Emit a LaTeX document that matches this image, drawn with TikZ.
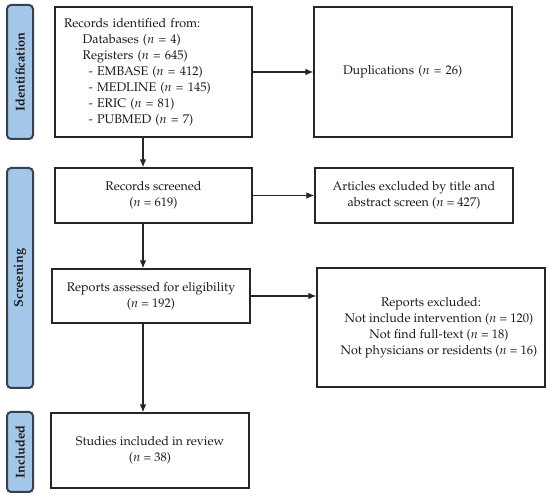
\documentclass[tikz,border=0pt]{standalone}
\usepackage[T1]{fontenc}
\usepackage{mathpazo}
\usetikzlibrary{arrows.meta}
\definecolor{barfill}{HTML}{A4C6E8}
\definecolor{barline}{HTML}{36404E}
\definecolor{txt}{HTML}{1A1A1A}
\begin{document}
\begin{tikzpicture}[x=0.75pt,y=-0.75pt,
  every node/.style={text=txt,font=\fontsize{9.4}{12}\selectfont},
  box/.style={draw=black!85,line width=1.1pt,fill=white,inner sep=0pt,align=center},
  bar/.style={draw=barline,line width=1.5pt,fill=barfill,rounded corners=3pt,inner sep=0pt,
     minimum width=19.5pt},
  bartext/.style={rotate=90,font=\fontsize{9.6}{12}\selectfont\bfseries,text=txt},
  arr/.style={draw=black!85,line width=0.8pt,-{Latex[length=6pt,width=5pt]}}]
\useasboundingbox (0,0) rectangle (550,498);

% side bars
\node[bar,minimum height=100.5pt] (bid) at (20,72) {};
\node[bartext] (tid) at (bid.center) {Identification};
\node[bar,minimum height=165pt] (bsc) at (20,278) {};
\node[bartext] (tsc) at (bsc.center) {Screening};
\node[bar,minimum height=60pt] (bin) at (20,452) {};
\node[bartext] (tin) at (bin.center) {Included};

% boxes
\node[box,minimum width=147.75pt,minimum height=97.5pt,text width=134.25pt,inner xsep=6.75pt,align=left] (ident) at (153.5,72)
 {Records identified from:\\
  \hspace*{14pt}Databases ($n$ = 4)\\
  \hspace*{14pt}Registers ($n$ = 645)\\
  \hspace*{18.5pt}- EMBASE ($n$ = 412)\\
  \hspace*{18.5pt}- MEDLINE ($n$ = 145)\\
  \hspace*{18.5pt}- ERIC ($n$ = 81)\\
  \hspace*{18.5pt}- PUBMED ($n$ = 7)};
\node[box,minimum width=148.5pt,minimum height=97.5pt,text width=105pt,inner xsep=21.75pt,align=left] (dup) at (413,72)
 {Duplications ($n$ = 26)};
\node[box,minimum width=147.75pt,minimum height=41.25pt] (scr) at (153.5,195.5)
 {Records screened\\($n$ = 619)};
\node[box,minimum width=148.5pt,minimum height=41.25pt] (art) at (414,195.5)
 {Articles excluded by title and\\abstract screen ($n$ = 427)};
\node[box,minimum width=148.5pt,minimum height=40.5pt] (ass) at (151,296)
 {Reports assessed for eligibility\\($n$ = 192)};
\node[box,minimum width=171pt,minimum height=89.25pt] (exc) at (431,327.5)
 {Reports excluded:\\
  \hspace*{12pt}Not include intervention ($n$ = 120)\\
  \hspace*{12pt}Not find full-text ($n$ = 18)\\
  \hspace*{12pt}Not physicians or residents ($n$ = 16)};
\node[box,minimum width=148.5pt,minimum height=56.25pt] (stu) at (150,450.5)
 {Studies included in review\\($n$ = 38)};

% connectors
\coordinate (ax) at (143,0);
\draw[arr] (ident.east) -- (dup.west |- ident.east);
\draw[arr] (ident.south -| ax) -- (scr.north -| ax);
\draw[arr] (scr.east) -- (art.west |- scr.east);
\draw[arr] (scr.south -| ax) -- (ass.north -| ax);
\draw[arr] (ass.east) -- (exc.west |- ass.east);
\draw[arr] (ass.south -| ax) -- (stu.north -| ax);
\end{tikzpicture}
\end{document}
